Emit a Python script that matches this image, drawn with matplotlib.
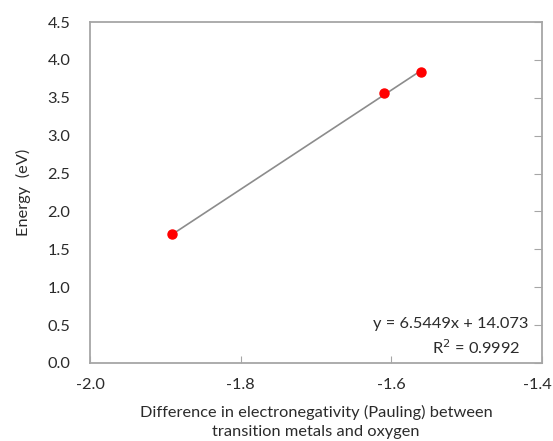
import numpy as np
import matplotlib.pyplot as plt
import matplotlib.transforms as mtransforms

plt.rcParams['font.family'] = ['Lato', 'DejaVu Sans']

# electronegativity difference vs energy
en_diff = [-1.891, -1.610, -1.560]
energy = [1.70, 3.57, 3.84]
slope = 6.5449
intercept = 14.073
r2 = 0.9992

text_col = '#2b2b2b'
spine_col = '#a6a6a6'
fs = 11.8

fig = plt.figure(figsize=(5.53, 4.41), dpi=100)
ax = fig.add_axes([0.1627, 0.1769, 0.8173, 0.7731])

xs = np.array([min(en_diff), max(en_diff)])
ax.plot(xs, slope * xs + intercept, color='#8c8c8c', lw=1.2, zorder=2)
ax.plot(en_diff, energy, 'o', color='#ff0000', markersize=6.5, zorder=3)

ax.set_xlim(-2.0, -1.4)
ax.set_ylim(0, 4.5)
ax.set_xticks([-2.0, -1.8, -1.6, -1.4])
ax.set_xticklabels(['-2.0', '-1.8', '-1.6', '-1.4'])
ax.set_yticks(np.arange(0, 4.51, 0.5))
ax.set_yticklabels(['%.1f' % v for v in np.arange(0, 4.51, 0.5)])

for s in ax.spines.values():
    s.set_color(spine_col)
    s.set_linewidth(1.3)

ax.tick_params(axis='y', left=False, right=True, direction='in', length=6,
               color=spine_col, labelsize=fs, labelcolor=text_col, pad=14)
ax.tick_params(axis='x', direction='in', length=5, color=spine_col,
               labelsize=fs, labelcolor=text_col, pad=11)

# keep the last x label inside the figure
last = ax.get_xticklabels()[-1]
last.set_transform(last.get_transform() +
                   mtransforms.ScaledTranslation(-3 / 72, 0, fig.dpi_scale_trans))

ax.set_ylabel('Energy  (eV)', fontsize=fs, color=text_col, labelpad=12)
ax.set_xlabel('Difference in electronegativity (Pauling) between\ntransition metals and oxygen',
              fontsize=fs, color=text_col, labelpad=9, linespacing=1.45)

ax.text(-1.4185, 0.51, 'y = 6.5449x + 14.073', ha='right', va='center',
        fontsize=fs, color=text_col)
ax.text(-1.487, 0.20, 'R$^2$ = 0.9992', ha='center', va='center',
        fontsize=fs, color=text_col)

fig.savefig('out.png', dpi=100)
